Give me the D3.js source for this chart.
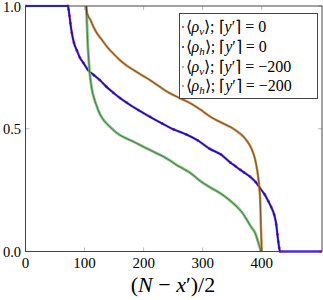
<!DOCTYPE html>
<html><head><meta charset="utf-8">
<script src="https://cdn.jsdelivr.net/npm/d3@7"></script>
<style>body{margin:0;background:#fff}svg{display:block}</style>
</head><body><svg id="c" width="323" height="300"></svg>
<script>
const xTicks = [0, 100, 200, 300, 400];
const yTicks = [0, 0.5, 1];
const yTickLabels = ["0.0", "0.5", "1.0"];

// [y'] = 0  (rho_v and rho_h coincide)
const x0 = [0,72,73,74.5,76,78.5,82,87,92,98,106,116,126,137,149,160,172,191,211,231,251,272,292,312,331,347,355,364,370,380,390,397,405,411,416,421,424.5,426.5,428,429.5,431,500];
const rhoV0 = [1,1,0.985,0.96,0.93,0.89,0.85,0.819,0.79,0.768,0.739,0.718,0.698,0.671,0.646,0.625,0.605,0.576,0.548,0.522,0.497,0.477,0.452,0.418,0.395,0.362,0.348,0.332,0.322,0.305,0.282,0.258,0.232,0.205,0.181,0.15,0.11,0.07,0.04,0.015,0,0];
const rhoH0 = [1,1,0.985,0.96,0.93,0.89,0.85,0.819,0.79,0.768,0.739,0.718,0.698,0.671,0.646,0.625,0.605,0.576,0.548,0.522,0.497,0.477,0.452,0.418,0.395,0.362,0.348,0.332,0.322,0.305,0.282,0.258,0.232,0.205,0.181,0.15,0.11,0.07,0.04,0.015,0,0];

// [y'] = -200
const xV200 = [102.8,103.5,104.2,105.3,106.5,108.3,110,112.5,116,121,126,132,143,151,160,171,183,197,211,222,234,245,256,268,279,296,312,330,345,358,368,375,382,389,392.5,395,397,398.5];
const rhoV200 = [1.0,0.96,0.92,0.85,0.8,0.74,0.7,0.66,0.625,0.59,0.56,0.536,0.508,0.49,0.474,0.46,0.447,0.43,0.413,0.4,0.386,0.37,0.352,0.336,0.32,0.287,0.262,0.237,0.21,0.182,0.155,0.128,0.1,0.074,0.05,0.03,0.015,0];
const xH200 = [102.8,104,106,110,115,121,130,138,150,160,171,183,197,211,228,245,262,279,296,313,330,347,358,369,375,381,385,389,392,394.6,396.2,397.5,398.6,399.3,400];
const rhoH200 = [1.0,0.975,0.96,0.943,0.915,0.889,0.86,0.834,0.803,0.779,0.758,0.739,0.718,0.698,0.67,0.644,0.624,0.604,0.578,0.549,0.527,0.507,0.49,0.468,0.45,0.427,0.405,0.373,0.335,0.291,0.25,0.2,0.1,0.05,0];

const series = [
  {name:"v", yp:"0", x:x0, y:rhoV0, color:"#e8303a"},
  {name:"h", yp:"0", x:x0, y:rhoH0, color:"#1c1cff"},
  {name:"v", yp:"\u2212200", x:xV200, y:rhoV200, color:"#7fc47f"},
  {name:"h", yp:"\u2212200", x:xH200, y:rhoH200, color:"#c98a45"}
];

const svg = d3.select("#c");
const L = 25.5, R = 322, T = 6, B = 251.5;
const x = d3.scaleLinear().domain([0, 502]).range([L, R]);
const y = d3.scaleLinear().domain([0, 1]).range([B, T]);

svg.append("defs").append("clipPath").attr("id","clp")
  .append("rect").attr("x",L).attr("y",T-2).attr("width",R-L).attr("height",B-T+4);

// ticks (inside, gray)
const tg = svg.append("g");
xTicks.forEach(t => {
  tg.append("line").attr("x1",x(t)).attr("x2",x(t)).attr("y1",B).attr("y2",B-4).attr("stroke","#bbb");
  tg.append("line").attr("x1",x(t)).attr("x2",x(t)).attr("y1",T).attr("y2",T+4).attr("stroke","#bbb");
});
yTicks.forEach(t => {
  tg.append("line").attr("x1",L).attr("x2",L+4).attr("y1",y(t)).attr("y2",y(t)).attr("stroke","#bbb");
  tg.append("line").attr("x1",R).attr("x2",R-4).attr("y1",y(t)).attr("y2",y(t)).attr("stroke","#bbb");
});

const line = (xs, ys) => d3.line().x((d,i)=>x(xs[i])).y((d,i)=>y(ys[i])).curve(d3.curveMonotoneX)(ys);
const pg = svg.append("g").attr("clip-path","url(#clp)");

// data
pg.selectAll(".rd").data(rhoV0).enter().append("circle")
  .attr("cx",(d,i)=>x(x0[i])).attr("cy",d=>y(d)).attr("r",1.4).attr("fill",series[0].color);
pg.append("path").attr("d", line(series[0].x, series[0].y)).attr("fill","none")
  .attr("stroke","#c02080").attr("stroke-width",2.6).attr("opacity",0.5);
pg.append("path").attr("d", line(series[1].x, series[1].y)).attr("fill","none")
  .attr("stroke",series[1].color).attr("stroke-width",1.8);
pg.append("path").attr("d", line(series[2].x, series[2].y)).attr("fill","none")
  .attr("stroke",series[2].color).attr("stroke-width",2.8);
pg.append("path").attr("d", line(series[3].x, series[3].y)).attr("fill","none")
  .attr("stroke",series[3].color).attr("stroke-width",2.4);

// theory curves (black, thin, on top)
[[x0,rhoH0],[xV200,rhoV200],[xH200,rhoH200]].forEach(([xs,ys]) => {
  pg.append("path").attr("d", line(xs,ys)).attr("fill","none").attr("stroke","#000")
    .attr("stroke-width",0.9).attr("opacity",0.45);
});

// frame
svg.append("rect").attr("x",L).attr("y",T).attr("width",R-L).attr("height",B-T)
  .attr("fill","none").attr("stroke","#444").attr("stroke-width",1);

// tick labels
const font = "Liberation Serif";
xTicks.forEach(t => {
  svg.append("text").attr("x",x(t)).attr("y",268).attr("text-anchor","middle")
    .style("font-family",font).attr("font-size",15).text(t);
});
yTicks.forEach((t,i) => {
  svg.append("text").attr("x",21).attr("y",Math.max(y(t)+5,12)).attr("text-anchor","end")
    .style("font-family",font).attr("font-size",14.5).text(yTickLabels[i]);
});

// axis title
const at = svg.append("text").attr("x",173).attr("y",292).attr("text-anchor","middle")
  .style("font-family",font).attr("font-size",22);
at.append("tspan").text("(");
at.append("tspan").attr("font-style","italic").text("N");
at.append("tspan").text(" \u2212 ");
at.append("tspan").attr("font-style","italic").text("x");
at.append("tspan").text("\u2032)/2");

// legend
const lg = svg.append("g");
lg.append("rect").attr("x",179.5).attr("y",13.5).attr("width",138).attr("height",85)
  .attr("fill","#fff").attr("stroke","#444").attr("stroke-width",1);
const rowY = [27, 47, 67, 86];
series.forEach((s,i) => {
  lg.append("circle").attr("cx",183).attr("cy",rowY[i]).attr("r",1.1).attr("fill",s.color);
  const t = lg.append("text").attr("x",185.5).attr("y",rowY[i]+5)
    .style("font-family",font).attr("font-size",16);
  t.append("tspan").text("\u27E8");
  t.append("tspan").attr("font-style","italic").text("\u03C1");
  t.append("tspan").attr("font-style","italic").attr("font-size",11).attr("dy",3).text(s.name);
  t.append("tspan").attr("dy",-3).text("\u27E9; \u2308");
  t.append("tspan").attr("font-style","italic").text("y");
  t.append("tspan").text("\u2032\u2309 = " + s.yp);
});
</script></body></html>
